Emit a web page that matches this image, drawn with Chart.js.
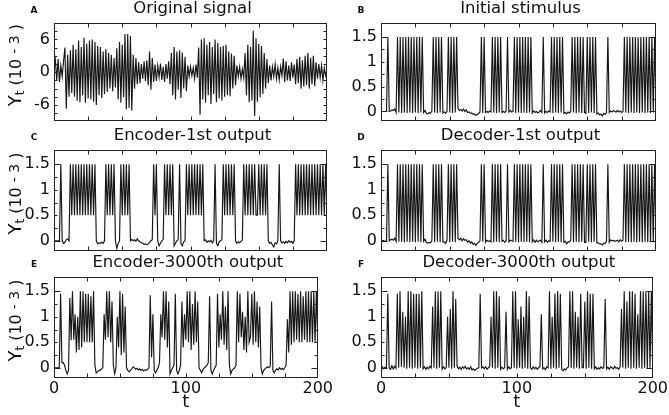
<!DOCTYPE html>
<html>
<head>
<meta charset="utf-8">
<script src="https://cdn.jsdelivr.net/npm/chart.js@4.4.1/dist/chart.umd.min.js"></script>
<style>
  body { margin: 0; background: #fff; }
  #wrap { position: relative; width: 669px; height: 415px; overflow: hidden; background: #fff; }
  canvas { position: absolute; }
</style>
</head>
<body>
<div id="wrap">
  <canvas id="panelA" width="334" height="135" style="left:0px;top:0px"></canvas>
  <canvas id="panelB" width="335" height="135" style="left:334px;top:0px"></canvas>
  <canvas id="panelC" width="334" height="140" style="left:0px;top:128px"></canvas>
  <canvas id="panelD" width="335" height="140" style="left:334px;top:128px"></canvas>
  <canvas id="panelE" width="334" height="160" style="left:0px;top:255px"></canvas>
  <canvas id="panelF" width="335" height="160" style="left:334px;top:255px"></canvas>
</div>
<script>
// time steps t = 0..200
var T = [];
for (var i = 0; i <= 200; i++) T.push(i);

var X_LABELS = [0, 100, 200];
var X_MINOR = [25, 50, 75, 100, 125, 150, 175];

var Y_LABELS_SIGNAL = [-6, 0, 6];
var Y_MINOR_SIGNAL = [-7.5, -6, -4.5, -3, -1.5, 0, 1.5, 3, 4.5, 6, 7.5];
var Y_LABELS_SPIKE = [0, 0.5, 1, 1.5];
var Y_MINOR_SPIKE = [0, 0.25, 0.5, 0.75, 1, 1.25, 1.5];

// values in units of 10^-3
var originalSignal = [
  0.5, 2.2, -1.5, 2.4, -1.8, 1.2, -0.8, 2.0, 4.5, -6.7,
  3.2, -4.5, 4.0, -3.8, 5.0, -4.5, 4.2, -5.2, 5.8, -5.5,
  4.6, -4.2, 6.3, -5.6, 5.2, -4.8, 5.8, -5.0, 6.0, -5.4,
  5.5, -6.0, 4.8, -4.2, 4.6, -4.7, 3.8, -4.0, 4.2, -3.6,
  3.5, -3.0, 3.2, -3.5, 2.6, -2.8, 4.4, -5.0, 5.5, -5.6,
  5.0, -4.6, 7.0, -6.8, 7.0, -6.5, 6.6, -7.0, 3.2, -3.0,
  2.6, -2.2, 1.8, -2.0, 1.5, -1.2, 2.0, -1.6, 2.2, -2.4,
  3.8, -3.2, 2.6, -1.8, 1.4, -1.6, 1.2, -0.9, 1.6, -1.4,
  1.0, -1.8, 1.5, -1.2, 2.0, -2.2, 3.5, -4.2, 4.6, -5.0,
  3.8, -3.2, 4.0, -4.7, 3.6, -3.0, 2.8, -3.5, 1.2, -0.8,
  1.0, -0.6, 0.8, -1.2, 1.4, -1.0, 4.5, -7.8, 6.0, -5.0,
  6.2, -5.6, 5.0, -4.2, 5.5, -5.8, 4.6, -4.0, 6.0, -5.5,
  5.4, -4.8, 4.6, -5.2, 4.8, -4.5, 5.0, -4.2, 3.8, -4.4,
  3.4, -3.0, 3.0, -2.4, 1.2, -0.8, 1.0, -1.2, 0.6, -1.0,
  3.5, -4.2, 5.0, -5.5, 4.6, -5.2, 7.6, -8.0, 6.2, -5.4,
  5.2, -4.6, 4.8, -4.0, 3.5, -3.0, 2.4, -2.0, 1.2, -1.5,
  1.0, -0.8, 1.5, -1.2, 0.8, -1.4, 1.0, -0.6, 2.5, -1.8,
  2.0, -1.5, 1.2, -1.6, 1.8, -1.0, 1.4, -2.2, 2.4, -2.0,
  2.8, -3.0, 2.2, -2.6, 3.0, -2.4, 3.5, -3.0, 2.6, -2.2,
  3.0, -2.5, 1.8, -1.2, 1.5, -1.0, 1.2, -1.5, 0.8, -0.6,
  0.4
];

var initialStimulus = [
  0, 0, 0, 0, 0, 1.5, 0, 0.01, 0.03, 0.02,
  0.05, -0.02, 1.5, -0.02, 1.5, -0.03, 1.5, -0.02, 1.5, -0.03,
  1.5, -0.02, 1.5, -0.03, 1.5, -0.02, 1.5, -0.03, 1.5, -0.02,
  1.5, -0.02, 0.02, -0.04, -0.05, -0.02, -0.04, 0.01, 1.5, -0.02,
  1.5, -0.03, 1.5, -0.02, 1.5, -0.03, -0.01, -0.04, 0.0, 1.5,
  -0.02, 1.5, -0.03, 1.5, -0.02, 1.5, 0.06, 0.02, 0.04, 0.01,
  0.05, 0.0, 0.03, -0.02, -0.01, -0.04, -0.03, -0.06, -0.05, -0.08,
  -0.06, -0.04, -0.01, 1.5, -0.03, 1.5, -0.02, 0.0, -0.02, 0.01,
  -0.01, 1.5, -0.02, 1.5, -0.03, 1.5, -0.02, 1.5, -0.02, 0.0,
  -0.02, 0.01, 1.5, -0.01, 0.02, -0.01, 0.0, 1.5, -0.03, 1.5,
  -0.02, 1.5, -0.03, 1.5, -0.02, 1.5, -0.03, 1.5, -0.02, 1.5,
  -0.03, 0.01, -0.02, 0.0, -0.03, -0.01, 0.02, -0.02, 1.5, -0.03,
  0.0, -0.02, 0.01, -0.01, 1.5, -0.03, 1.5, -0.02, 1.5, -0.03,
  1.5, -0.02, 1.5, -0.04, -0.02, -0.05, -0.01, -0.03, 0.0, 1.5,
  -0.02, 1.5, -0.03, 1.5, -0.02, 1.5, -0.03, 1.5, -0.02, -0.04,
  1.5, -0.03, 1.5, -0.02, 1.5, -0.03, 1.5, -0.05, -0.03, -0.07,
  -0.05, -0.09, -0.04, -0.06, -0.02, 1.5, -0.02, 0.01, -0.01, 0.02,
  0.0, -0.01, 0.02, -0.01, 0.01, -0.02, 0.0, 1.5, -0.02, 1.5,
  -0.03, 1.5, -0.02, 1.5, -0.03, 1.5, -0.02, 1.5, -0.03, 1.5,
  -0.02, 1.5, -0.03, 1.5, -0.02, 1.5, -0.03, 1.5, -0.02, 1.5,
  0.0
];

var encoder1st = [
  0, 0, 0, 0, 0, 1.5, 0.0, -0.05, -0.03, 0.02,
  0.04, 0.0, 1.5, 0.5, 1.5, 0.5, 1.5, 0.5, 1.5, 0.5,
  1.5, 0.5, 1.5, 0.5, 1.5, 0.5, 1.5, 0.5, 1.5, 0.5,
  1.5, 0.0, -0.06, -0.04, -0.05, -0.03, -0.05, 0.0, 1.5, 0.5,
  1.5, 0.5, 1.5, 0.5, 1.5, 0.0, -0.15, -0.05, 0.0, 1.5,
  0.5, 1.5, 0.5, 1.5, 0.5, 1.5, 0.0, 0.03, 0.0, 0.02,
  -0.01, 0.04, 0.0, -0.02, -0.04, -0.05, -0.07, -0.06, -0.08, -0.06,
  -0.03, 0.0, 0.02, 1.5, 0.5, 1.5, 0.0, -0.1, -0.05, 0.0,
  0.03, 1.5, 0.5, 1.5, 0.5, 1.5, 0.5, 1.5, -0.1, -0.05,
  0.0, 0.02, 1.5, -0.05, -0.1, -0.02, 0.0, 1.5, 0.5, 1.5,
  0.5, 1.5, 0.5, 1.5, 0.5, 1.5, 0.5, 1.5, 0.5, 1.5,
  0.0, 0.02, -0.03, 0.0, -0.02, 0.01, -0.04, 0.0, 1.5, -0.05,
  -0.1, -0.02, 0.0, 0.02, 1.5, 0.5, 1.5, 0.5, 1.5, 0.5,
  1.5, 0.5, 1.5, 0.0, -0.05, -0.02, -0.04, -0.01, 0.02, 1.5,
  0.5, 1.5, 0.5, 1.5, 0.5, 1.5, 0.5, 1.5, 0.5, 0.5,
  1.5, 0.5, 1.5, 0.5, 1.5, 0.5, 1.5, 0.0, -0.05, -0.03,
  -0.08, -0.12, -0.04, -0.06, 0.0, 1.5, 0.0, -0.04, -0.02, -0.05,
  -0.01, -0.04, 0.0, -0.03, -0.01, -0.05, 0.0, 1.5, 0.5, 1.5,
  0.5, 1.5, 0.5, 1.5, 0.5, 1.5, 0.5, 1.5, 0.5, 1.5,
  0.5, 1.5, 0.5, 1.5, 0.5, 1.5, 0.5, 1.5, 0.5, 1.5,
  0.5
];

var decoder1st = [
  0, 0.01, 0, -0.01, 0, 1.5, 0, 0.02, 0.03, 0.01,
  0.05, -0.01, 1.5, -0.02, 1.5, -0.02, 1.5, -0.03, 1.5, -0.02,
  1.5, -0.03, 1.5, -0.02, 1.5, -0.03, 1.5, -0.02, 1.5, -0.03,
  1.5, -0.01, 0.03, -0.03, -0.05, -0.03, -0.04, 0.0, 1.5, -0.03,
  1.5, -0.02, 1.5, -0.03, 1.5, -0.02, -0.02, -0.05, 0.01, 1.5,
  -0.03, 1.5, -0.02, 1.5, -0.03, 1.5, 0.05, 0.02, 0.05, 0.0,
  0.04, 0.01, 0.02, -0.03, 0.0, -0.05, -0.02, -0.07, -0.05, -0.09,
  -0.05, -0.03, 0.0, 1.5, -0.02, 1.5, -0.03, 0.01, -0.01, 0.0,
  -0.02, 1.5, -0.03, 1.5, -0.02, 1.5, -0.03, 1.5, -0.01, 0.01,
  -0.03, 0.0, 1.5, -0.02, 0.01, 0.0, -0.01, 1.5, -0.02, 1.5,
  -0.03, 1.5, -0.02, 1.5, -0.03, 1.5, -0.02, 1.5, -0.03, 1.5,
  -0.02, 0.02, -0.03, 0.01, -0.02, 0.0, 0.01, -0.03, 1.5, -0.02,
  0.01, -0.03, 0.0, -0.01, 1.5, -0.02, 1.5, -0.03, 1.5, -0.02,
  1.5, -0.03, 1.5, -0.03, -0.01, -0.06, -0.02, -0.02, 0.01, 1.5,
  -0.03, 1.5, -0.02, 1.5, -0.03, 1.5, -0.02, 1.5, -0.03, -0.03,
  1.5, -0.02, 1.5, -0.03, 1.5, -0.02, 1.5, -0.04, -0.04, -0.06,
  -0.06, -0.08, -0.05, -0.05, -0.01, 1.5, -0.03, 0.02, 0.0, 0.01,
  -0.01, 0.0, 0.01, -0.02, 0.02, -0.01, 0.01, 1.5, -0.03, 1.5,
  -0.02, 1.5, -0.03, 1.5, -0.02, 1.5, -0.03, 1.5, -0.02, 1.5,
  -0.03, 1.5, -0.02, 1.5, -0.03, 1.5, -0.02, 1.5, -0.03, 1.5,
  0.0
];

var encoder3000th = [
  0, 0, 0, 0, 0, 1.45, 0.1, 0.1, 0.05, -0.05,
  -0.12, -0.05, 1.37, 0.54, 1.5, 0.55, 1.05, 0.3, 1.0, 0.35,
  1.5, 0.4, 1.5, 0.5, 1.45, 0.5, 1.45, 0.5, 1.4, 0.5,
  1.5, 0.05, -0.1, -0.08, -0.05, -0.05, -0.02, 0.0, 1.05, 0.55,
  1.5, 0.6, 1.5, 0.5, 1.3, 0.05, -0.12, 0.0, 1.0, 0.4,
  1.5, 0.25, 1.45, 0.3, 1.2, 0.0, -0.05, -0.08, -0.05, -0.02,
  0.02, 0.0, -0.03, -0.01, -0.04, -0.02, -0.05, -0.03, -0.06, -0.04,
  -0.05, -0.03, 0.0, 1.42, 0.2, 1.05, -0.05, -0.1, -0.05, 0.0,
  0.1, 1.05, 0.6, 1.5, 0.55, 1.5, 0.4, 1.3, -0.12, -0.05,
  0.0, 0.05, 1.45, -0.05, -0.12, -0.05, 0.05, 1.3, 0.4, 1.05,
  0.55, 1.5, 0.5, 1.5, 0.35, 1.25, 0.45, 1.5, 0.5, 1.3,
  0.0, -0.05, -0.1, -0.03, 0.0, 0.02, 0.05, 0.1, 1.4, -0.05,
  -0.12, -0.05, 0.0, 0.05, 1.45, 0.4, 1.05, 0.55, 1.5, 0.45,
  1.2, 0.35, 1.5, 0.05, -0.12, -0.05, -0.02, 0.0, 0.05, 1.5,
  0.5, 1.45, 0.6, 1.1, 0.35, 1.0, 0.3, 1.5, 0.5, 0.6,
  1.45, 0.45, 1.5, 0.5, 1.3, 0.4, 1.2, 0.0, -0.12, -0.05,
  -0.02, 0.0, 0.02, 0.0, 0.03, 1.3, -0.05, -0.1, -0.05, -0.02,
  -0.04, 0.0, -0.03, -0.01, -0.04, 0.0, 0.05, 0.95, 0.3, 1.5,
  0.45, 1.5, 0.5, 1.5, 0.55, 1.45, 0.5, 1.5, 0.5, 1.4,
  0.55, 1.5, 0.5, 1.5, 0.5, 1.5, 0.5, 1.5, 0.5, 1.5,
  0.5
];

var decoder3000th = [
  0.0, 0.02, -0.02, 0.01, 0.0, 1.45, 0.0, -0.03, 0.04, -0.02,
  0.03, -0.01, 1.45, 0.0, 1.5, 0.02, 1.1, 0.0, 1.0, -0.02,
  1.5, 0.0, 1.5, -0.02, 1.45, 0.0, 1.45, -0.02, 1.45, 0.0,
  1.5, -0.02, 0.02, -0.03, 0.01, -0.02, 0.03, 0.0, 1.2, 0.0,
  1.5, -0.02, 1.5, 0.0, 1.5, -0.03, 0.02, -0.02, 0.0, 1.0,
  0.0, 1.15, -0.02, 1.5, 0.0, 1.35, 0.03, -0.02, 0.01, -0.03,
  0.02, -0.01, 0.03, -0.02, 0.0, -0.03, 0.02, -0.04, -0.02, -0.05,
  -0.03, -0.01, 0.0, 1.45, 0.0, 0.02, -0.02, 0.02, -0.03, 0.0,
  0.02, 1.0, 0.0, 1.5, -0.02, 1.5, 0.0, 1.4, -0.03, 0.01,
  -0.02, 0.0, 1.1, -0.03, 0.02, -0.02, 0.0, 1.5, 0.0, 1.5,
  -0.02, 0.95, 0.0, 1.2, -0.02, 1.0, 0.0, 1.5, -0.02, 1.4,
  0.0, -0.03, 0.02, -0.02, 0.01, -0.03, 0.0, 0.02, 1.05, -0.02,
  0.0, -0.04, 0.02, 0.0, 1.5, -0.02, 1.0, 0.0, 1.45, -0.02,
  1.5, 0.0, 1.45, -0.03, -0.06, -0.02, -0.04, 0.0, 0.02, 1.5,
  0.0, 1.5, -0.02, 1.1, 0.0, 1.0, -0.02, 1.45, 0.0, 0.0,
  1.3, -0.02, 1.5, 0.0, 1.45, -0.02, 1.45, -0.02, 0.02, -0.03,
  0.0, -0.02, 0.02, -0.01, 0.0, 1.35, -0.02, 0.01, -0.03, 0.02,
  0.0, -0.02, 0.03, -0.01, 0.0, -0.03, 0.02, 1.15, 0.0, 1.5,
  -0.02, 1.3, 0.0, 1.5, -0.02, 1.5, 0.0, 1.45, -0.02, 1.05,
  0.0, 1.5, -0.02, 1.5, 0.0, 1.5, -0.02, 1.5, 0.0, 1.5,
  0.0
];

var FONT = '"DejaVu Sans", Arial, sans-serif';

function drawYLabel(ctx, cx, cy) {
  var parts = [
    { text: 'Y', size: 18, dy: 0 },
    { text: 't', size: 12, dy: 3 },
    { text: ' (10 ', size: 16, dy: 0 },
    { text: '- 3', size: 14, dy: -2 },
    { text: ' )', size: 16, dy: 0 }
  ];
  var total = 0;
  parts.forEach(function(p) {
    ctx.font = p.size + 'px ' + FONT;
    total += ctx.measureText(p.text).width;
  });
  ctx.save();
  ctx.translate(cx, cy);
  ctx.rotate(-Math.PI / 2);
  ctx.textAlign = 'left';
  ctx.textBaseline = 'alphabetic';
  var xx = -total / 2;
  parts.forEach(function(p) {
    ctx.font = p.size + 'px ' + FONT;
    ctx.fillText(p.text, xx, p.dy);
    xx += ctx.measureText(p.text).width;
  });
  ctx.restore();
}

var panelDecor = {
  id: 'panelDecor',
  afterDraw: function(chart, args, opts) {
    var ctx = chart.ctx;
    var a = chart.chartArea;
    var x = chart.scales.x, y = chart.scales.y;
    var L = Math.round(a.left) + 0.5, R = Math.round(a.right) - 0.5;
    var TOP = Math.round(a.top) + 0.5, BOT = Math.round(a.bottom) - 0.5;
    ctx.save();
    ctx.strokeStyle = '#222';
    ctx.lineWidth = 1;
    ctx.strokeRect(L, TOP, R - L, BOT - TOP);
    ctx.beginPath();
    X_MINOR.forEach(function(v) {
      var px = Math.round(x.getPixelForValue(v)) + 0.5;
      ctx.moveTo(px, BOT); ctx.lineTo(px, BOT - 4);
      ctx.moveTo(px, TOP); ctx.lineTo(px, TOP + 4);
    });
    opts.yMinor.forEach(function(v) {
      var py = Math.round(y.getPixelForValue(v)) + 0.5;
      var len = opts.yLong.indexOf(v) >= 0 ? 6 : 3;
      ctx.moveTo(L, py); ctx.lineTo(L + len, py);
      ctx.moveTo(R, py); ctx.lineTo(R - len, py);
    });
    ctx.stroke();

    ctx.fillStyle = '#111';
    ctx.textAlign = 'center';
    ctx.textBaseline = 'alphabetic';
    ctx.font = '16.5px ' + FONT;
    ctx.fillText(opts.title, (a.left + a.right) / 2 + 2, a.top - 10);
    ctx.font = 'bold 9px ' + FONT;
    ctx.fillText(opts.letter, a.left - 20, a.top - 10);
    if (opts.yLabel) drawYLabel(ctx, 21, (a.top + a.bottom) / 2 - 7);
    ctx.restore();
  }
};

function makePanel(id, values, cfg) {
  var ctx = document.getElementById(id).getContext('2d');
  return new Chart(ctx, {
    type: 'line',
    data: {
      labels: T,
      datasets: [{
        data: values,
        borderColor: '#161616',
        borderWidth: 1.15,
        pointRadius: 0,
        tension: 0,
        fill: false
      }]
    },
    options: {
      responsive: false,
      animation: false,
      devicePixelRatio: 1,
      layout: { padding: cfg.pad },
      plugins: {
        legend: { display: false },
        tooltip: { enabled: false },
        panelDecor: {
          title: cfg.title, letter: cfg.letter, yLabel: cfg.yLabel,
          yMinor: cfg.yMinor, yLong: cfg.yLong
        }
      },
      scales: {
        x: {
          type: 'linear', min: 0, max: 200,
          grid: { display: false, drawTicks: false },
          border: { display: false },
          afterBuildTicks: function(s) { s.ticks = X_LABELS.map(function(v) { return { value: v }; }); },
          afterFit: function(s) { s.height = cfg.xHeight; },
          ticks: { display: cfg.showX, padding: 1, maxRotation: 0, color: '#111', font: { family: FONT, size: 16 } },
          title: { display: cfg.showX, text: 't', color: '#111', font: { family: FONT, size: 18 }, padding: { top: 0, bottom: 2 } }
        },
        y: {
          min: cfg.yMin, max: cfg.yMax,
          grid: { display: false, drawTicks: false },
          border: { display: false },
          afterBuildTicks: function(s) { s.ticks = cfg.yLabels.map(function(v) { return { value: v }; }); },
          afterFit: function(s) { s.width = cfg.yWidth; },
          ticks: { padding: 4, color: '#111', font: { family: FONT, size: 16 }, callback: function(v) { return String(v); } }
        }
      }
    },
    plugins: [panelDecor]
  });
}

function spikeCfg(extra) {
  var c = { yMin: -0.2, yMax: 1.78, yLabels: Y_LABELS_SPIKE, yMinor: Y_MINOR_SPIKE, yLong: [0, 1.5] };
  for (var k in extra) c[k] = extra[k];
  return c;
}

makePanel('panelA', originalSignal, {
  title: 'Original signal', letter: 'A', yLabel: true,
  yMin: -9, yMax: 9, yLabels: Y_LABELS_SIGNAL, yMinor: Y_MINOR_SIGNAL, yLong: [],
  yWidth: 54, xHeight: 0, showX: false,
  pad: { left: 0, right: 7, top: 23, bottom: 11 }
});
makePanel('panelB', initialStimulus, spikeCfg({
  title: 'Initial stimulus', letter: 'B', yLabel: false,
  yWidth: 47, xHeight: 0, showX: false,
  pad: { left: 0, right: 13, top: 23, bottom: 11 }
}));
makePanel('panelC', encoder1st, spikeCfg({
  title: 'Encoder-1st output', letter: 'C', yLabel: true,
  yWidth: 54, xHeight: 0, showX: false,
  pad: { left: 0, right: 7, top: 22, bottom: 17 }
}));
makePanel('panelD', decoder1st, spikeCfg({
  title: 'Decoder-1st output', letter: 'D', yLabel: false,
  yWidth: 47, xHeight: 0, showX: false,
  pad: { left: 0, right: 13, top: 22, bottom: 17 }
}));
makePanel('panelE', encoder3000th, spikeCfg({
  title: 'Encoder-3000th output', letter: 'E', yLabel: true,
  yWidth: 54, xHeight: 37, showX: true,
  pad: { left: 0, right: 7, top: 22, bottom: 0 }
}));
makePanel('panelF', decoder3000th, spikeCfg({
  title: 'Decoder-3000th output', letter: 'F', yLabel: false,
  yWidth: 47, xHeight: 37, showX: true,
  pad: { left: 0, right: 13, top: 22, bottom: 0 }
}));
</script>
</body>
</html>
